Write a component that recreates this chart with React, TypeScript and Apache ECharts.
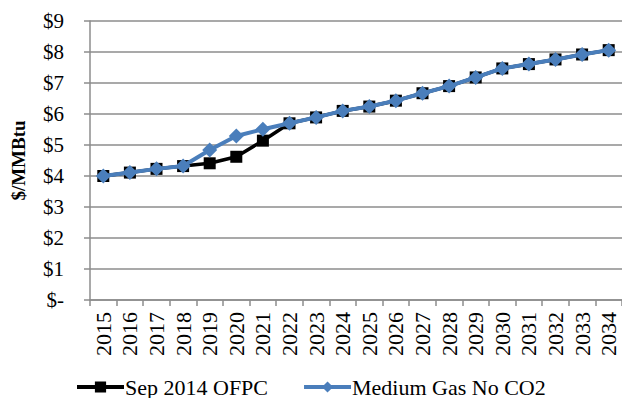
import React, { useEffect, useRef } from "react";
import * as echarts from "echarts";

const years = ["2015","2016","2017","2018","2019","2020","2021","2022","2023","2024","2025","2026","2027","2028","2029","2030","2031","2032","2033","2034"];
const sep2014Ofpc = [4.0, 4.11, 4.23, 4.32, 4.41, 4.62, 5.14, 5.70, 5.89, 6.10, 6.24, 6.43, 6.67, 6.90, 7.18, 7.47, 7.61, 7.76, 7.92, 8.06];
const mediumGasNoCo2 = [4.0, 4.11, 4.23, 4.32, 4.84, 5.29, 5.51, 5.70, 5.89, 6.10, 6.24, 6.43, 6.67, 6.90, 7.18, 7.47, 7.61, 7.76, 7.92, 8.06];
const seriesNames = ["Sep 2014 OFPC", "Medium Gas No CO2"];
const yAxisTitle = "$/MMBtu";

const FONT = "'Liberation Serif', 'Times New Roman', serif";
const BLUE = "#4a7ebb";
const GRID = "#8c8c8c";

export default function App() {
  const ref = useRef<HTMLDivElement>(null);
  useEffect(() => {
    document.body.style.margin = "0";
    if (!ref.current) return;
    const chart = echarts.init(ref.current, undefined, { renderer: "svg" });
    chart.setOption({
      animation: false,
      backgroundColor: "#ffffff",
      textStyle: { fontFamily: FONT },
      grid: { left: 90, right: 0, top: 21, bottom: 98, containLabel: false },
      legend: {
        top: 376,
        left: 75,
        padding: 0,
        itemWidth: 47,
        itemHeight: 14,
        itemGap: 34,
        lineStyle: { width: 4 },
        textStyle: { fontFamily: FONT, fontSize: 22, lineHeight: 22, color: "#000", padding: [0, 0, 0, -4] },
        data: seriesNames,
      },
      xAxis: {
        type: "category",
        data: years,
        boundaryGap: true,
        axisLine: { lineStyle: { color: GRID, width: 1.5 } },
        axisTick: { show: true, length: 6, lineStyle: { color: GRID, width: 1.5 }, alignWithLabel: false },
        axisLabel: { rotate: 90, margin: 12, fontFamily: FONT, fontSize: 22, color: "#000", interval: 0 },
      },
      yAxis: {
        type: "value",
        min: 0,
        max: 9,
        interval: 1,
        name: yAxisTitle,
        nameLocation: "middle",
        nameGap: 62,
        nameRotate: 90,
        nameTextStyle: { fontFamily: FONT, fontSize: 19, fontWeight: "bold", color: "#000" },
        axisLine: { show: true, lineStyle: { color: GRID, width: 1.5 } },
        axisTick: { show: true, length: 6, lineStyle: { color: GRID, width: 1.5 } },
        splitLine: { show: true, lineStyle: { color: GRID, width: 1.5 } },
        axisLabel: {
          margin: 26,
          fontFamily: FONT,
          fontSize: 21,
          color: "#000",
          formatter: (v: number) => (v === 0 ? "$-" : "$" + v),
        },
      },
      series: [
        {
          name: seriesNames[0],
          type: "line",
          data: sep2014Ofpc,
          symbol: "rect",
          symbolSize: 12,
          lineStyle: { color: "#000", width: 3.5 },
          itemStyle: { color: "#000" },
          z: 2,
        },
        {
          name: seriesNames[1],
          type: "line",
          data: mediumGasNoCo2,
          symbol: "diamond",
          symbolSize: 15,
          lineStyle: { color: BLUE, width: 4 },
          itemStyle: { color: BLUE },
          z: 3,
        },
      ],
    });
    return () => chart.dispose();
  }, []);
  return <div ref={ref} style={{ position: "absolute", left: 0, top: 0, width: 622, height: 398 }} />;
}
